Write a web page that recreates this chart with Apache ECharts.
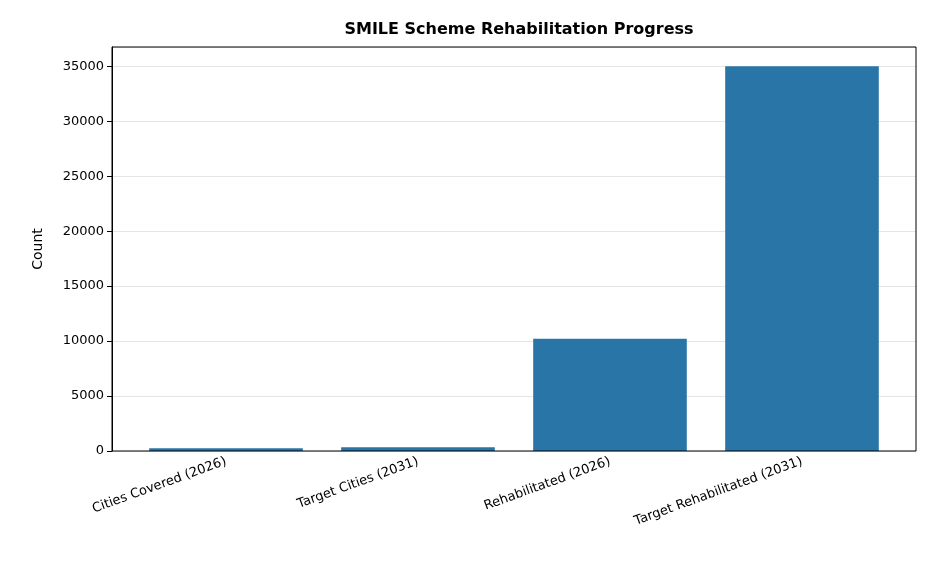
<!DOCTYPE html><html><head><meta charset="utf-8"><script src="https://cdn.jsdelivr.net/npm/echarts@6/dist/echarts.min.js"></script></head><body style="margin:0"><div id="c" style="width:936px;height:572px"></div><script>
const categories=["Cities Covered (2026)","Target Cities (2031)","Rehabilitated (2026)","Target Rehabilitated (2031)"];
const values=[250,350,10200,35000];
const c=echarts.init(document.getElementById('c'));
const ff='DejaVu Sans';
c.setOption({animation:false,
title:{text:"SMILE Scheme Rehabilitation Progress",left:514,top:17,textAlign:'center',textStyle:{fontFamily:ff,fontSize:16,fontWeight:'bold',color:'#000'}},
grid:[{left:130,right:38,top:47,bottom:121},{left:112,right:20,top:47,bottom:121}],
xAxis:[{type:'category',gridIndex:0,data:categories,axisLine:{show:false},axisTick:{alignWithLabel:true,length:5,lineStyle:{color:'#000'}},axisLabel:{rotate:20,fontFamily:ff,fontSize:13,color:'#000',margin:10,interval:0},splitLine:{show:false}},
{type:'value',gridIndex:1,show:false}],
yAxis:[{type:'value',gridIndex:0,offset:18,min:0,max:36750,interval:5000,name:'Count',nameLocation:'middle',nameGap:67,nameTextStyle:{fontFamily:ff,fontSize:14,color:'#000'},axisLine:{show:true,lineStyle:{color:'#000'}},axisTick:{show:true,length:5,lineStyle:{color:'#000'}},axisLabel:{fontFamily:ff,fontSize:13,color:'#000',showMaxLabel:false,formatter:v=>String(v)},splitLine:{show:false}},
{type:'value',gridIndex:1,min:0,max:36750,interval:5000,axisLine:{show:false},axisTick:{show:false},axisLabel:{show:false},splitLine:{lineStyle:{color:'#e5e5e5'}}}],
series:[{type:'bar',data:values,barWidth:'80%',itemStyle:{color:'#2975a8'},z:3}],
graphic:[{type:'rect',z:10,shape:{x:112,y:47,width:804,height:404},style:{fill:'none',stroke:'#000',lineWidth:1}}]
});
</script></body></html>
